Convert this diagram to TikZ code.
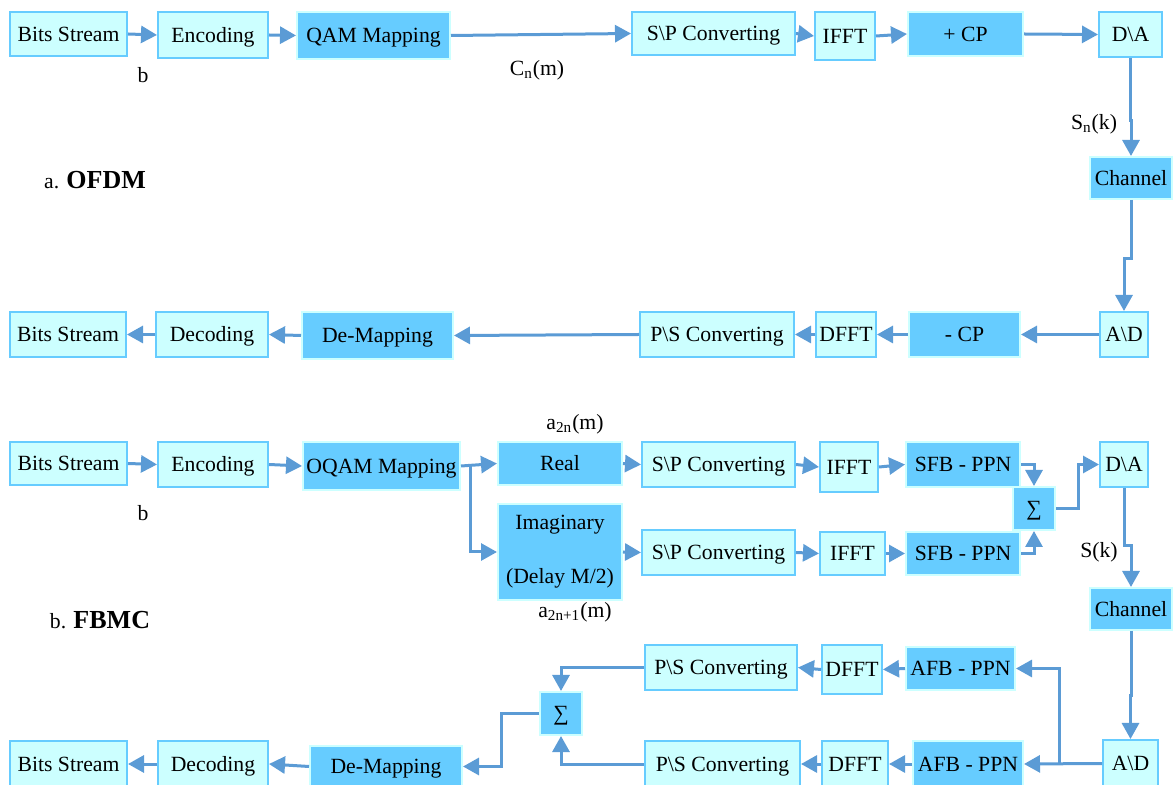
\documentclass[tikz,border=0pt]{standalone}
\usepackage{fontspec}
\setmainfont{Liberation Serif}
\usetikzlibrary{arrows.meta}
\definecolor{lightfill}{HTML}{CCFFFF}
\definecolor{lightedge}{HTML}{66CCFF}
\definecolor{darkfill}{HTML}{66CCFF}
\definecolor{darkedge}{HTML}{CCFFFF}
\definecolor{arrowcol}{HTML}{5B9BD5}
\newcommand\mybox[7]{\node[#1, minimum width={(#5-#3)*0.5pt}, minimum height={(#6-#4)*0.5pt}] (#2) at ({(#3+#5)/2},{(#4+#6)/2}) {#7};}
\begin{document}
\begin{tikzpicture}[x=0.5pt,y=-0.5pt,
  every node/.style={font=\fontsize{10.85}{13}\selectfont, inner sep=0pt},
  lbox/.style={draw=lightedge, fill=lightfill, line width=1pt, text height=7.2pt, text depth=0pt},
  dbox/.style={draw=darkedge, fill=darkfill, line width=1pt, text height=7.2pt, text depth=0pt},
  arr/.style={draw=arrowcol, line width=1.5pt, -{Triangle[length=8pt,width=8.5pt]}},
  lbl/.style={}]
\useasboundingbox (0,0) rectangle (1173,785);
% ---------- OFDM ----------
\mybox{lbox}{bs1}{10}{12}{127}{56}{Bits Stream}
\mybox{lbox}{enc1}{158}{12}{268}{58}{Encoding}
\mybox{dbox}{qam}{297}{12}{450}{59}{QAM Mapping}
\mybox{lbox}{sp1}{632}{12}{795}{55}{S\textbackslash P Converting}
\mybox{lbox}{ifft1}{815}{12}{875}{60}{IFFT}
\mybox{dbox}{cp1}{908}{12}{1023}{56}{+ CP}
\mybox{lbox}{da1}{1099}{12}{1162}{57}{D\textbackslash A}
\mybox{dbox}{ch1}{1090}{157}{1172}{199}{Channel}
\mybox{lbox}{ad1}{1100}{312}{1148}{357}{A\textbackslash D}
\mybox{dbox}{mcp}{909}{312}{1020}{357}{- CP}
\mybox{lbox}{dfft1}{816}{312}{876}{357}{DFFT}
\mybox{lbox}{ps1}{640}{312}{794}{357}{P\textbackslash S Converting}
\mybox{dbox}{dem1}{302}{312}{453}{359}{De-Mapping}
\mybox{lbox}{dec1}{156}{312}{268}{357}{Decoding}
\mybox{lbox}{bs2}{10}{312}{126}{357}{Bits Stream}

\node[lbl] (lb1) at (143,75) {b};
\node[lbl] (lc) at (537,70) {C\textsubscript{n}(m)};
\node[lbl] (ls) at (1094,124) {S\textsubscript{n}(k)};
\node[lbl] (ta) at (95,180) {a. {\fontsize{13}{15}\selectfont\bfseries OFDM}};

\draw[arr] (bs1.east) -- (enc1.west);
\draw[arr] (enc1.east) -- (qam.west);
\draw[arr] (qam.east) -- (sp1.west);
\draw[arr] (sp1.east) -- (ifft1.west);
\draw[arr] (ifft1.east) -- (cp1.west);
\draw[arr] (cp1.east) -- (da1.west);
\draw[arr] (da1.south) -- ++(0,63) -| (ch1.north);
\draw[arr] (ch1.south) -- ++(0,59) -| (ad1.north);
\draw[arr] (ad1.west) -- (mcp.east);
\draw[arr] (mcp.west) -- (dfft1.east);
\draw[arr] (dfft1.west) -- (ps1.east);
\draw[arr] (ps1.west) -- (dem1.east);
\draw[arr] (dem1.west) -- (dec1.east);
\draw[arr] (dec1.west) -- (bs2.east);

% ---------- FBMC ----------
\mybox{lbox}{bs3}{10}{442}{127}{485}{Bits Stream}
\mybox{lbox}{enc2}{158}{442}{268}{487}{Encoding}
\mybox{dbox}{oqam}{303}{442}{460}{490}{OQAM Mapping}
\mybox{dbox}{real}{498}{442}{622}{485}{Real}
\node[dbox, text height=, text depth=, align=center, minimum width={124*0.5pt}, minimum height={96*0.5pt}] (imag) at (560,552) {Imaginary\\[14pt](Delay M/2)};
\mybox{lbox}{sp2}{642}{442}{795}{487}{S\textbackslash P Converting}
\mybox{lbox}{ifft2}{820}{442}{878}{492}{IFFT}
\mybox{dbox}{sfb1}{906}{442}{1020}{487}{SFB - PPN}
\mybox{lbox}{sp3}{642}{530}{795}{575}{S\textbackslash P Converting}
\mybox{lbox}{ifft3}{820}{532}{885}{575}{IFFT}
\mybox{dbox}{sfb2}{906}{532}{1020}{575}{SFB - PPN}
\mybox{dbox}{sig1}{1013}{487}{1055}{530}{∑}
\mybox{lbox}{da2}{1100}{442}{1148}{487}{D\textbackslash A}
\mybox{dbox}{ch2}{1090}{588}{1172}{630}{Channel}
\mybox{lbox}{ad2}{1103}{740}{1158}{787}{A\textbackslash D}
\mybox{dbox}{afb1}{906}{647}{1015}{690}{AFB - PPN}
\mybox{lbox}{dfft2}{822}{645}{882}{694}{DFFT}
\mybox{lbox}{ps2}{645}{645}{797}{690}{P\textbackslash S Converting}
\mybox{dbox}{afb2}{913}{741}{1023}{787}{AFB - PPN}
\mybox{lbox}{dfft3}{822}{741}{888}{787}{DFFT}
\mybox{lbox}{ps3}{645}{741}{800}{787}{P\textbackslash S Converting}
\mybox{dbox}{sig2}{540}{692}{582}{735}{∑}
\mybox{dbox}{dem2}{310}{746}{462}{787}{De-Mapping}
\mybox{lbox}{dec2}{158}{741}{268}{787}{Decoding}
\mybox{lbox}{bs4}{10}{741}{127}{787}{Bits Stream}

\node[lbl] (lb2) at (143,513) {b};
\node[lbl] (la1) at (575,424) {a\textsubscript{2n}(m)};
\node[lbl] (la2) at (575,612) {a\textsubscript{2n+1}(m)};
\node[lbl] (lsk) at (1099,552) {S(k)};
\node[lbl] (tb) at (100,620) {b. {\fontsize{13}{15}\selectfont\bfseries FBMC}};

\draw[arr] (bs3.east) -- (enc2.west);
\draw[arr] (enc2.east) -- (oqam.west);
\draw[arr] (oqam.east) -- (real.west);
\draw[arr] (oqam.east) ++(9,0) |- (imag.west);
\draw[arr] (real.east) -- (sp2.west);
\draw[arr] (sp2.east) -- (ifft2.west);
\draw[arr] (ifft2.east) -- (sfb1.west);
\draw[arr] (imag.west -| imag.east) -- (sp3.west);
\draw[arr] (sp3.east) -- (ifft3.west);
\draw[arr] (ifft3.east) -- (sfb2.west);
\draw[arr] (sfb1.east) -| (sig1.north);
\draw[arr] (sfb2.east) -| (sig1.south);
\draw[arr] (sig1.east) -- ++(22,0) |- (da2.west);
\draw[arr] (da2.south) -- ++(0,58) -| (ch2.north);
\draw[arr] (ch2.south) -- ++(0,65) -| (ad2.north);
\draw[arr] (ad2.west) -- (afb2.east);
\draw[arr] (ad2.west) ++(-43,0) |- (afb1.east);
\draw[arr] (afb1.west) -- (dfft2.east);
\draw[arr] (dfft2.west) -- (ps2.east);
\draw[arr] (afb2.west) -- (dfft3.east);
\draw[arr] (dfft3.west) -- (ps3.east);
\draw[arr] (ps2.west) -| (sig2.north);
\draw[arr] (ps3.west) -| (sig2.south);
\draw[arr] (sig2.west) -- ++(-38,0) |- (dem2.east);
\draw[arr] (dem2.west) -- (dec2.east);
\draw[arr] (dec2.west) -- (bs4.east);
\end{tikzpicture}
\end{document}
